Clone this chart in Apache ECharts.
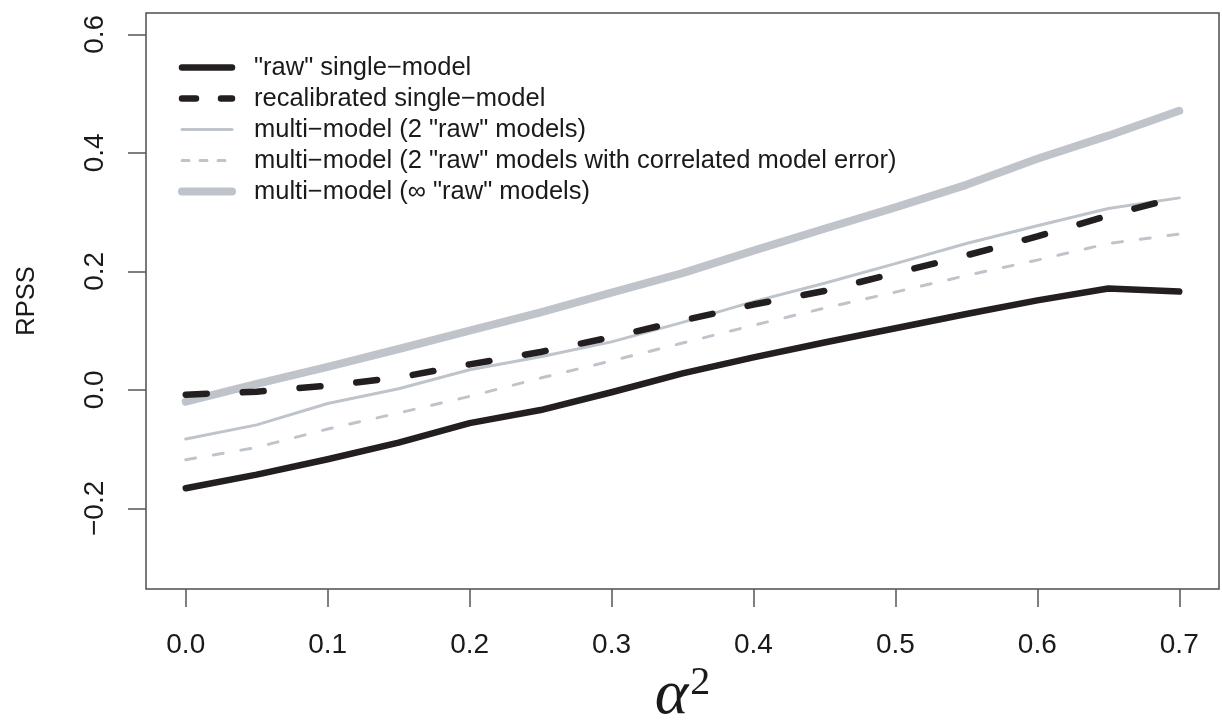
<!DOCTYPE html>
<html>
<head>
<meta charset="utf-8">
<script src="https://cdn.jsdelivr.net/npm/echarts@6/dist/echarts.min.js"></script>
<style>
  html, body { margin: 0; padding: 0; background: #fff; }
  #chart { width: 1222px; height: 720px; }
</style>
</head>
<body>
<div id="chart"></div>
<script>
// alpha^2 values on the x axis
const alpha2 = [0, 0.05, 0.1, 0.15, 0.2, 0.25, 0.3, 0.35, 0.4, 0.45, 0.5, 0.55, 0.6, 0.65, 0.7];

// RPSS per curve
const rawSingle = [-0.166, -0.143, -0.117, -0.089, -0.056, -0.034, -0.004, 0.028, 0.055, 0.080, 0.104, 0.128, 0.151, 0.171, 0.166];
const recalSingle = [-0.008, -0.003, 0.007, 0.021, 0.043, 0.064, 0.089, 0.117, 0.144, 0.167, 0.197, 0.227, 0.259, 0.294, 0.326];
const multi2 = [-0.083, -0.059, -0.023, 0.002, 0.034, 0.056, 0.081, 0.114, 0.149, 0.180, 0.213, 0.247, 0.277, 0.306, 0.324];
const multi2Corr = [-0.118, -0.097, -0.066, -0.039, -0.011, 0.020, 0.049, 0.079, 0.109, 0.138, 0.165, 0.193, 0.219, 0.247, 0.263];
const multiInf = [-0.020, 0.010, 0.039, 0.069, 0.100, 0.131, 0.164, 0.197, 0.235, 0.272, 0.308, 0.346, 0.390, 0.429, 0.471];

const xTicks = [0, 0.1, 0.2, 0.3, 0.4, 0.5, 0.6, 0.7];
const yTicks = [-0.2, 0, 0.2, 0.4, 0.6];

const names = [
    '"raw" single\u2212model',
    'recalibrated single\u2212model',
    'multi\u2212model (2 "raw" models)',
    'multi\u2212model (2 "raw" models with correlated model error)',
    'multi\u2212model (\u221e "raw" models)'
];

const BLACK = '#231f20';
const GREY = '#bfc4cb';
const TXT = '#1a1a1a';
const FONT = '"Liberation Sans", Arial, Helvetica, sans-serif';
const SERIF = '"Liberation Serif", "DejaVu Serif", serif';

const pairs = ys => alpha2.map((x, i) => [x, ys[i]]);
const fmt = v => (v < 0 ? '\u2212' : '') + Math.abs(v).toFixed(1);

const chart = echarts.init(document.getElementById('chart'));

function lineSeries(name, data, color, width, type) {
    return {
        name: name,
        type: 'line',
        data: pairs(data),
        symbol: 'none',
        silent: true,
        animation: false,
        lineStyle: { color: color, width: width, type: type, cap: 'round', join: 'round' }
    };
}

const option = {
    backgroundColor: '#fff',
    animation: false,
    grid: {
        left: 146, right: 3, top: 13, bottom: 131,
        outerBoundsMode: 'none',
        containLabel: false,
        show: true, borderColor: '#4d4d4d', borderWidth: 1.5
    },
    legend: {
        orient: 'vertical',
        left: 178, top: 52,
        padding: 0,
        itemWidth: 50, itemHeight: 14, itemGap: 0,
        selectedMode: false,
        itemStyle: { opacity: 0 },
        lineStyle: { width: 'inherit' },
        textStyle: { fontFamily: FONT, fontSize: 25.5, color: TXT, lineHeight: 31, padding: [0, 0, 0, 17] },
        data: [
            { name: names[0] },
            { name: names[1], lineStyle: { type: [14, 25] } },
            { name: names[2] },
            { name: names[3], lineStyle: { type: [7, 11] } },
            { name: names[4] }
        ]
    },
    xAxis: {
        type: 'value',
        min: -0.028, max: 0.728,
        name: '{a|\u03b1}{s|2}',
        nameLocation: 'middle',
        nameGap: 72,
        nameTextStyle: {
            rich: {
                a: { fontFamily: SERIF, fontStyle: 'italic', fontSize: 64, color: TXT, verticalAlign: 'bottom' },
                s: { fontFamily: SERIF, fontSize: 40, color: TXT, verticalAlign: 'top', padding: [0, 0, 0, 2] }
            }
        },
        axisLine: { show: false, onZero: false },
        splitLine: { show: false },
        axisTick: { show: true, customValues: xTicks, length: 18, lineStyle: { color: '#555', width: 1.5 } },
        axisLabel: { customValues: xTicks, margin: 42, fontFamily: FONT, fontSize: 28, color: TXT, formatter: fmt }
    },
    yAxis: {
        type: 'value',
        min: -0.336, max: 0.636,
        name: 'RPSS',
        nameLocation: 'middle',
        nameRotate: 90,
        nameGap: 106,
        nameTextStyle: { fontFamily: FONT, fontSize: 25.5, color: TXT },
        axisLine: { show: false, onZero: false },
        splitLine: { show: false },
        axisTick: { show: true, customValues: yTicks, length: 18, lineStyle: { color: '#555', width: 1.5 } },
        axisLabel: { customValues: yTicks, rotate: 90, margin: 37, fontFamily: FONT, fontSize: 28, color: TXT, formatter: fmt }
    },
    series: [
        lineSeries(names[4], multiInf, GREY, 8, 'solid'),
        lineSeries(names[2], multi2, GREY, 3, 'solid'),
        lineSeries(names[3], multi2Corr, GREY, 3, [10, 18]),
        lineSeries(names[1], recalSingle, BLACK, 6.5, [21, 36]),
        lineSeries(names[0], rawSingle, BLACK, 6.5, 'solid')
    ]
};

chart.setOption(option);
</script>
</body>
</html>
